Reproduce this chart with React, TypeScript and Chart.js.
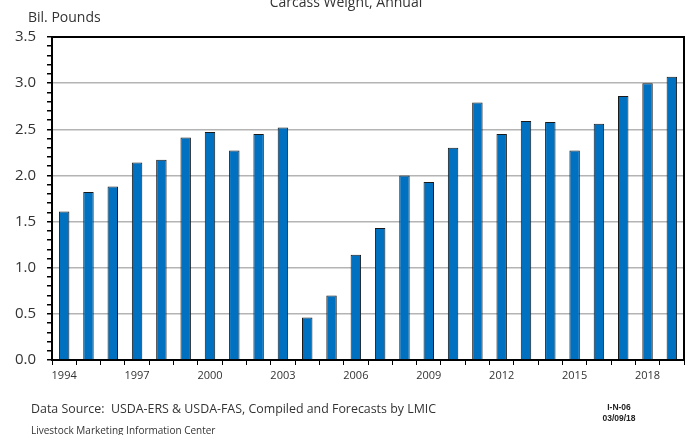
import React, { useEffect, useRef } from "react";
import { Chart, registerables } from "chart.js";

Chart.register(...registerables);

const years: string[] = [
  "1994", "1995", "1996", "1997", "1998", "1999", "2000", "2001", "2002",
  "2003", "2004", "2005", "2006", "2007", "2008", "2009", "2010", "2011",
  "2012", "2013", "2014", "2015", "2016", "2017", "2018", "2019",
];
const carcassWeight: number[] = [
  1.61, 1.82, 1.88, 2.14, 2.17, 2.41, 2.47, 2.27, 2.45, 2.52, 0.46, 0.7,
  1.14, 1.43, 2.0, 1.93, 2.3, 2.79, 2.45, 2.59, 2.58, 2.27, 2.56, 2.86,
  3.0, 3.07,
];
const labeledYears: string[] = ["1994", "1997", "2000", "2003", "2006", "2009", "2012", "2015", "2018"];

const titleText = "Carcass Weight, Annual";
const unitText = "Bil. Pounds";
const sourceText = "Data Source:  USDA-ERS & USDA-FAS, Compiled and Forecasts by LMIC";
const centerText = "Livestock Marketing Information Center";
const codeText = "I-N-06";
const dateText = "03/09/18";

const FONT = "'Open Sans', 'DejaVu Sans', sans-serif";

export default function App() {
  const ref = useRef<HTMLCanvasElement | null>(null);

  useEffect(() => {
    if (!ref.current) return;
    const textPlugin = {
      id: "texts",
      afterDraw(chart: any) {
        const ctx = chart.ctx;
        const area = chart.chartArea;
        ctx.save();
        ctx.strokeStyle = "#000";
        ctx.lineWidth = 2;
        ctx.beginPath();
        ctx.moveTo(area.left, area.top);
        ctx.lineTo(area.right, area.top);
        ctx.lineTo(area.right, area.bottom);
        ctx.stroke();

        ctx.fillStyle = "#333";
        ctx.textBaseline = "alphabetic";
        ctx.textAlign = "center";
        ctx.font = `14px ${FONT}`;
        ctx.fillText(titleText, 346, 7);
        ctx.textAlign = "left";
        ctx.font = `14px ${FONT}`;
        ctx.fillText(unitText, 28, 22);
        ctx.font = `12.4px ${FONT}`;
        ctx.fillText(sourceText, 31, 413);
        ctx.font = `10px ${FONT}`;
        ctx.fillText(centerText, 31, 434);
        ctx.fillStyle = "#222";
        ctx.textAlign = "center";
        ctx.font = `bold 8.5px 'Liberation Sans', Arial, sans-serif`;
        ctx.fillText(codeText, 619, 410);
        ctx.fillText(dateText, 619, 421);
        ctx.restore();
      },
    };

    const chart = new Chart(ref.current, {
      type: "bar",
      data: {
        labels: years,
        datasets: [
          {
            data: carcassWeight,
            backgroundColor: "#0070C0",
            borderColor: "#1a1a1a",
            borderWidth: 1,
            barPercentage: 0.43,
            categoryPercentage: 1,
          },
        ],
      },
      options: {
        animation: false,
        responsive: false,
        layout: { padding: { left: 0, right: 2, top: 37, bottom: 45 } },
        plugins: {
          legend: { display: false },
          tooltip: { enabled: false },
          title: { display: false },
        },
        scales: {
          x: {
            offset: true,
            afterFit: (s: any) => {
              s.height = 30;
            },
            grid: {
              offset: true,
              drawOnChartArea: false,
              drawTicks: true,
              tickLength: 5,
              tickColor: "#000",
            },
            border: { color: "#000", width: 2 },
            ticks: {
              autoSkip: false,
              maxRotation: 0,
              padding: 4,
              color: "#333",
              font: { family: FONT, size: 11 },
              callback: (_v: any, i: number) => (labeledYears.includes(years[i]) ? years[i] : ""),
            },
          },
          y: {
            min: 0,
            max: 3.5,
            afterFit: (s: any) => {
              s.width = 52;
            },
            grid: {
              color: (c: any) => {
                const v = Math.round(c.tick.value * 10);
                return v % 5 === 0 ? "#b4b4b4" : "rgba(0,0,0,0)";
              },
              lineWidth: 1.5,
              tickColor: "#000",
              tickLength: 5,
            },
            border: { color: "#000", width: 2 },
            ticks: {
              stepSize: 0.1,
              autoSkip: false,
              padding: 11,
              color: "#333",
              font: { family: FONT, size: 15 },
              callback: (value: any) => {
                const v = Math.round(Number(value) * 10);
                return v % 5 === 0 ? (v / 10).toFixed(1) : "";
              },
            },
          },
        },
      },
      plugins: [textPlugin],
    });
    return () => chart.destroy();
  }, []);

  return (
    <div style={{ position: "fixed", left: 0, top: 0, width: 686, height: 435, background: "#fff" }}>
      <canvas ref={ref} width={686} height={435} style={{ width: 686, height: 435 }} />
    </div>
  );
}
